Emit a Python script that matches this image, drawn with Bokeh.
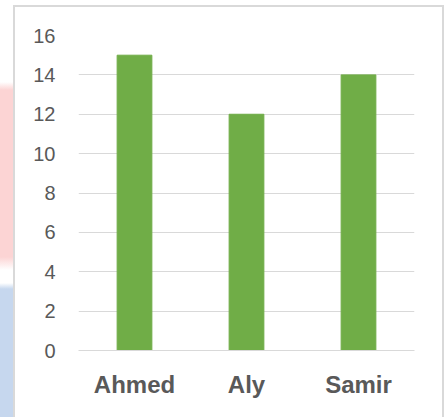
from bokeh.plotting import figure
from bokeh.models import FactorRange, Range1d, FixedTicker
from bokeh.embed import file_html
from bokeh.resources import INLINE

names = ["Ahmed", "Aly", "Samir"]
scores = [15, 12, 14]
y_ticks = [0, 2, 4, 6, 8, 10, 12, 14, 16]

p = figure(width=446, height=417, output_backend="svg", toolbar_location=None,
           x_range=FactorRange(factors=names), y_range=Range1d(0, 16),
           min_border_left=78, min_border_right=32, min_border_top=35, min_border_bottom=67)

p.vbar(x=names, top=scores, width=0.31, color="#70ad47")

p.outline_line_color = None
p.background_fill_color = "white"
p.border_fill_alpha = 0

# decorative chart border and the faint strip to its left, drawn as CSS backgrounds
p.styles = {
    "background":
        "linear-gradient(#d9d9d9,#d9d9d9) 13px 6px / 2px 420px no-repeat,"
        "linear-gradient(#d9d9d9,#d9d9d9) 442px 6px / 2px 420px no-repeat,"
        "linear-gradient(#d9d9d9,#d9d9d9) 13px 5px / 431px 2px no-repeat,"
        "linear-gradient(to bottom, #ffffff, #fcd4d4 8px, #fcd4d4 175px, #ffffff 188px) 0px 82px / 13px 188px no-repeat,"
        "linear-gradient(to bottom, #ffffff, #c6d7ee 6px) 0px 283px / 13px 134px no-repeat,"
        "#ffffff",
}

p.xgrid.grid_line_color = None
p.ygrid.grid_line_color = "#d9d9d9"
p.ygrid.grid_line_width = 1
p.ygrid.ticker = FixedTicker(ticks=y_ticks)

p.yaxis.ticker = FixedTicker(ticks=y_ticks)
p.yaxis.axis_line_color = None
p.yaxis.major_tick_line_color = None
p.yaxis.minor_tick_line_color = None
p.yaxis.major_tick_out = 0
p.yaxis.major_tick_in = 0
p.yaxis.major_label_standoff = 23
p.yaxis.major_label_text_font = "Liberation Sans"
p.yaxis.major_label_text_font_size = "20px"
p.yaxis.major_label_text_color = "#595959"

p.xaxis.axis_line_color = "#d9d9d9"
p.xaxis.major_tick_line_color = None
p.xaxis.minor_tick_line_color = None
p.xaxis.major_tick_out = 0
p.xaxis.major_tick_in = 0
p.xaxis.major_label_standoff = 20
p.xaxis.major_label_text_font = "Liberation Sans"
p.xaxis.major_label_text_font_style = "bold"
p.xaxis.major_label_text_font_size = "24px"
p.xaxis.major_label_text_color = "#595959"

open("out.html", "w").write(file_html(p, INLINE))
